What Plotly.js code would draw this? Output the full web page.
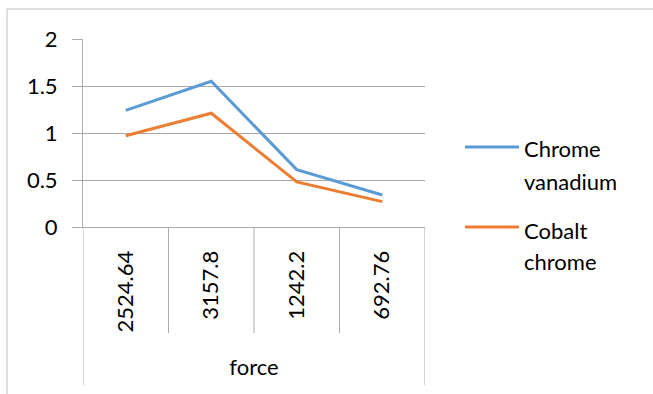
<!DOCTYPE html>
<html>
<head>
<meta charset="utf-8">
<script src="https://cdn.plot.ly/plotly-3.0.1.min.js"></script>
<style>
  html, body { margin: 0; padding: 0; background: #fff; }
  #chart { width: 653px; height: 394px; }
</style>
</head>
<body>
<div id="chart"></div>
<script>
// Force values (category labels, in the order they were measured)
const forceLabels = ["2524.64", "3157.8", "1242.2", "692.76"];

// Series
const chromeVanadium = [1.24, 1.55, 0.61, 0.34];
const cobaltChrome = [0.97, 1.21, 0.48, 0.27];

const seriesNames = ["Chrome vanadium", "Cobalt chrome"];
const seriesColors = ["#5B9BD5", "#ED7D31"];

const W = 653, H = 394;
const M = { l: 83, r: 228, t: 39, b: 167 };
const plotW = W - M.l - M.r;
const plotH = H - M.t - M.b;
const FONT = "Lato, 'Open Sans', sans-serif";
const GRID = "#ababab";

// pixel -> paper helpers for the frame and the legend block
const px = x => (x - M.l) / plotW;
const py = y => (H - M.b - y) / plotH;

const traces = [chromeVanadium, cobaltChrome].map((vals, i) => ({
  type: "scatter",
  mode: "lines",
  x: forceLabels,
  y: vals,
  name: seriesNames[i],
  line: { color: seriesColors[i], width: 3 },
  showlegend: false,
  hoverinfo: "skip"
}));

const shapes = [];
// outer frame (top and left edges)
shapes.push({ type: "line", xref: "paper", yref: "paper", x0: px(7), x1: px(660), y0: py(9), y1: py(9), line: { color: "#bfbfbf", width: 1 } });
shapes.push({ type: "line", xref: "paper", yref: "paper", x0: px(7), x1: px(7), y0: py(9), y1: py(400), line: { color: "#bfbfbf", width: 1 } });

// category dividers below the axis
for (let k = 0; k <= forceLabels.length; k++) {
  const outer = (k === 0 || k === forceLabels.length);
  shapes.push({
    type: "line", xref: "x", yref: "paper",
    x0: k - 0.5, x1: k - 0.5,
    y0: 0, y1: py(outer ? 385 : 333),
    line: { color: GRID, width: 1 }
  });
}

// legend block
const legendRows = [
  { lineY: 147, textY: [148, 181] },
  { lineY: 227, textY: [230, 261] }
];
const annotations = [];
seriesNames.forEach((name, i) => {
  const row = legendRows[i];
  shapes.push({
    type: "line", xref: "paper", yref: "paper",
    x0: px(465), x1: px(519), y0: py(row.lineY), y1: py(row.lineY),
    line: { color: seriesColors[i], width: 3 }
  });
  name.split(" ").forEach((word, j) => {
    annotations.push({
      xref: "paper", yref: "paper",
      x: px(522), y: py(row.textY[j]),
      xanchor: "left", yanchor: "middle",
      text: word, showarrow: false,
      font: { family: FONT, size: 22, color: "#000" }
    });
  });
});

const layout = {
  width: W, height: H,
  margin: M,
  paper_bgcolor: "#fff",
  plot_bgcolor: "#fff",
  font: { family: FONT, size: 22, color: "#000" },
  showlegend: false,
  xaxis: {
    type: "category",
    categoryorder: "array",
    categoryarray: forceLabels,
    range: [-0.5, forceLabels.length - 0.5],
    tickangle: -90,
    ticks: "",
    ticklabelstandoff: 14,
    showgrid: false,
    showline: true,
    linecolor: GRID,
    linewidth: 1,
    zeroline: false,
    fixedrange: true,
    title: { text: "force", font: { family: FONT, size: 22, color: "#000" }, standoff: 28 }
  },
  yaxis: {
    range: [0, 2],
    dtick: 0.5,
    tick0: 0,
    ticks: "outside",
    ticklen: 10,
    tickcolor: GRID,
    tickwidth: 1,
    ticklabelstandoff: 10,
    showgrid: true,
    gridcolor: GRID,
    gridwidth: 1,
    showline: true,
    linecolor: GRID,
    linewidth: 1,
    zeroline: false,
    fixedrange: true
  },
  shapes: shapes,
  annotations: annotations
};

Plotly.newPlot("chart", traces, layout, { displayModeBar: false, staticPlot: true });
</script>
</body>
</html>
